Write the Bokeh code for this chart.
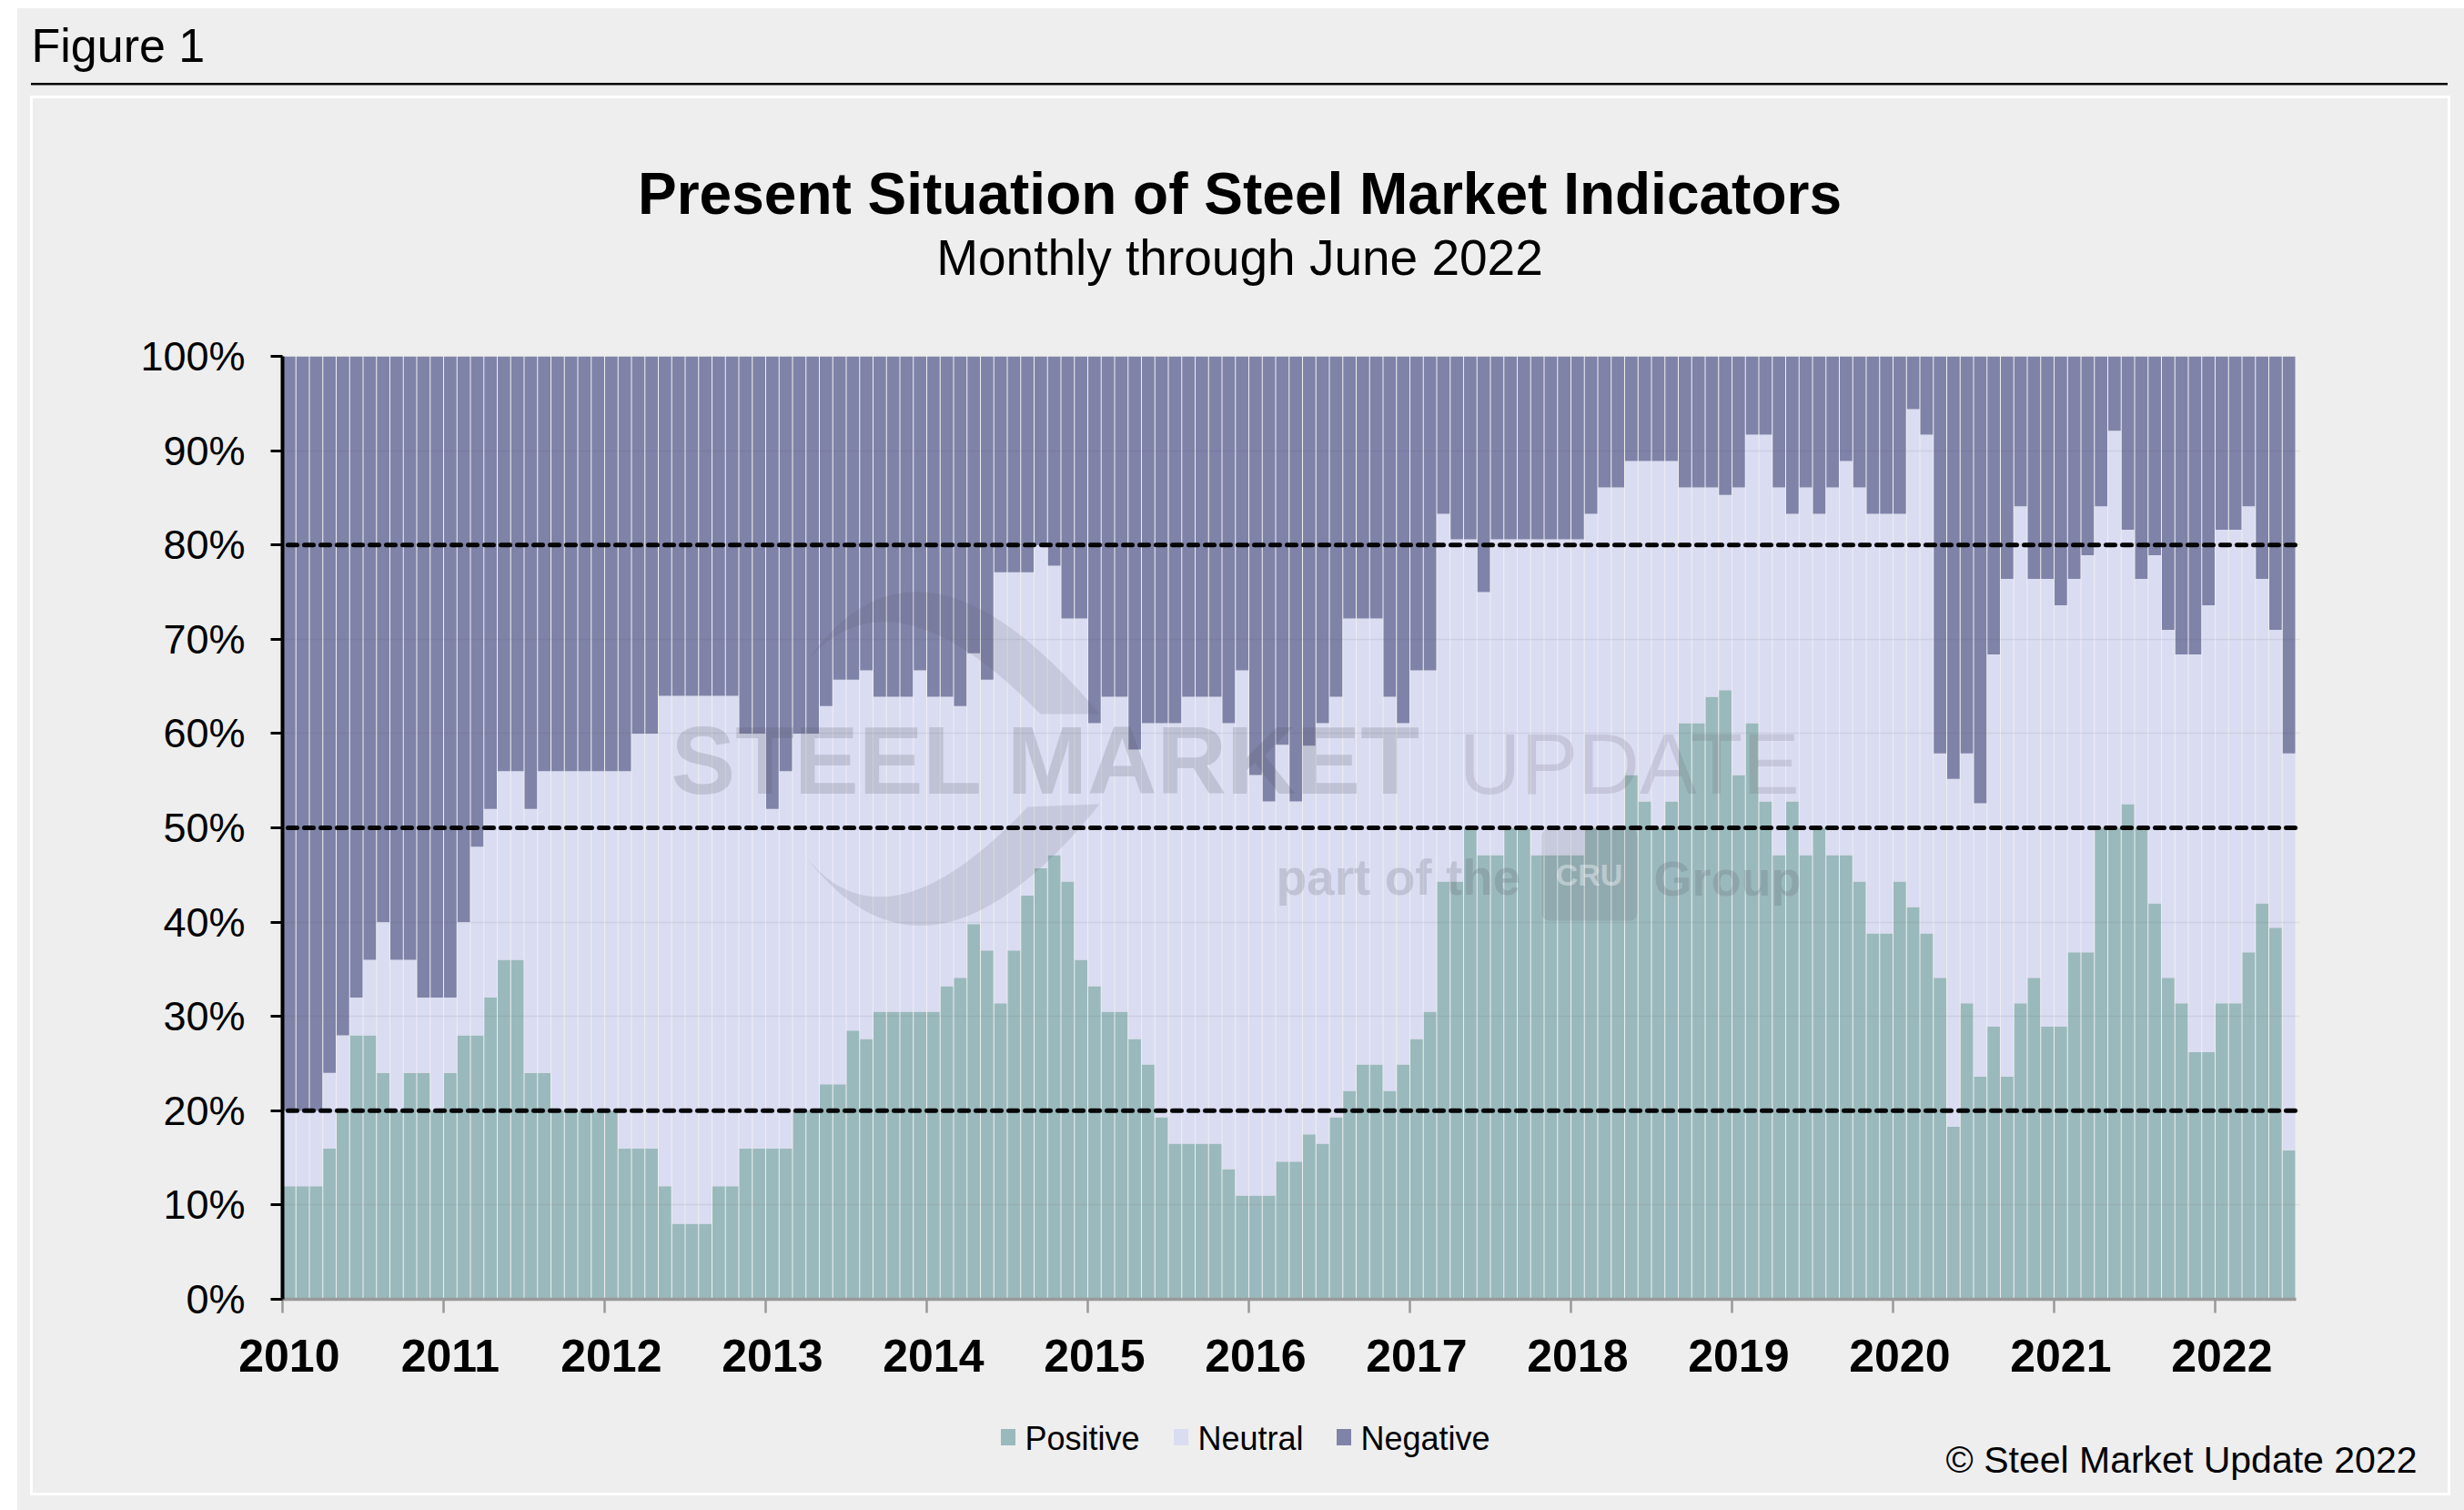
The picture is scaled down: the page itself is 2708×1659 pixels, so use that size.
from bokeh.plotting import figure
from bokeh.embed import file_html
from bokeh.resources import INLINE
from bokeh.models import Label, BoxAnnotation, PolyAnnotation, FixedTicker, Range1d
import numpy as np

YEARS = [str(y) for y in range(2010, 2023)]
Y_TICKS = list(range(0, 101, 10))
REFERENCE_LINES = [20, 50, 80]
LEGEND_LABELS = ["Positive", "Neutral", "Negative"]

POSITIVE = [
    12, 12, 12, 16, 20, 28, 28, 24, 20, 24, 24, 20,
    24, 28, 28, 32, 36, 36, 24, 24, 20, 20, 20, 20,
    20, 16, 16, 16, 12, 8, 8, 8, 12, 12, 16, 16,
    16, 16, 20, 20, 22.8, 22.8, 28.5, 27.6, 30.5, 30.5, 30.5, 30.5,
    30.5, 33.2, 34.1, 39.8, 37, 31.4, 37, 42.8, 45.7, 47.1, 44.3, 36,
    33.2, 30.5, 30.5, 27.6, 24.9, 19.3, 16.5, 16.5, 16.5, 16.5, 13.8, 11,
    11, 11, 14.6, 14.6, 17.5, 16.5, 19.3, 22.1, 24.9, 24.9, 22.1, 24.9,
    27.6, 30.5, 44.3, 44.3, 50, 47.1, 47.1, 50, 50, 47.1, 47.1, 47.1,
    47.1, 50, 50, 50, 55.6, 52.8, 50, 52.8, 61.1, 61.1, 63.9, 64.6,
    55.6, 61.1, 52.8, 47.1, 52.8, 47.1, 50, 47.1, 47.1, 44.3, 38.8, 38.8,
    44.3, 41.6, 38.8, 34.1, 18.3, 31.4, 23.6, 28.9, 23.6, 31.4, 34.1, 28.9,
    28.9, 36.8, 36.8, 50, 50, 52.5, 50, 42, 34.1, 31.4, 26.2, 26.2,
    31.4, 31.4, 36.8, 42, 39.4, 15.8,
]
# Top of the neutral band (bottom of the negative band)
POSITIVE_PLUS_NEUTRAL = [
    20, 20, 20, 24, 28, 32, 36, 40, 36, 36, 32, 32,
    32, 40, 48, 52, 56, 56, 52, 56, 56, 56, 56, 56,
    56, 56, 60, 60, 64, 64, 64, 64, 64, 64, 60, 60,
    52, 56, 60, 60, 62.9, 65.7, 65.7, 66.7, 63.9, 63.9, 63.9, 66.7,
    63.9, 63.9, 62.9, 68.5, 65.7, 77.1, 77.1, 77.1, 80, 77.8, 72.2, 72.2,
    61.1, 63.9, 63.9, 58.3, 61.1, 61.1, 61.1, 63.9, 63.9, 63.9, 61.1, 66.7,
    55.6, 52.8, 58.8, 52.8, 58.7, 61.1, 63.9, 72.2, 72.2, 72.2, 63.9, 61.1,
    66.7, 66.7, 83.3, 80.6, 80.6, 75, 80.6, 80.6, 80.6, 80.6, 80.6, 80.6,
    80.6, 83.3, 86.1, 86.1, 88.9, 88.9, 88.9, 88.9, 86.1, 86.1, 86.1, 85.3,
    86.1, 91.7, 91.7, 86.1, 83.3, 86.1, 83.3, 86.1, 88.9, 86.1, 83.3, 83.3,
    83.3, 94.4, 91.7, 57.9, 55.2, 57.9, 52.6, 68.4, 76.4, 84.1, 76.4, 76.4,
    73.6, 76.4, 78.9, 84.1, 92.1, 81.6, 76.4, 78.9, 71, 68.4, 68.4, 73.6,
    81.6, 81.6, 84.1, 76.4, 71, 57.9,
]
TOTAL = [100] * len(POSITIVE)

C_POS, C_NEU, C_NEG = "#9AB9BC", "#DADCF2", "#7F83A8"
FONT = "Liberation Sans"

n = len(POSITIVE)
months = np.arange(n) + 0.5

# pixel geometry of the plot frame on the page
W, H = 2700, 1650
L, R, T, B = 310, 2527, 391, 1427
PXM = 14.75
X1 = (R - L) / PXM
def X(px): return (px - L) / PXM
def Y(py): return (B - py) / (B - T) * 100

p = figure(width=W, height=H, output_backend="svg", toolbar_location=None,
           x_range=Range1d(0, X1), y_range=Range1d(0, 100),
           min_border_left=L, min_border_right=W - R,
           min_border_top=T, min_border_bottom=H - B,
           background_fill_color=None, border_fill_color=None,
           outline_line_color=None)

p.vbar(x=months, width=0.93, bottom=0, top=POSITIVE, color=C_POS, line_color=None, name="Positive")
p.vbar(x=months, width=0.93, bottom=POSITIVE, top=POSITIVE_PLUS_NEUTRAL, color=C_NEU, line_color=None, name="Neutral")
p.vbar(x=months, width=0.93, bottom=POSITIVE_PLUS_NEUTRAL, top=TOTAL, color=C_NEG, line_color=None, name="Negative")

for v in REFERENCE_LINES:
    p.line([X(316), X1], [v, v], line_color="black", line_width=5, line_dash="10 8",
           line_cap="round", level="overlay")

# axes
xa = p.xaxis[0]
xa.ticker = FixedTicker(ticks=[12 * i + 0.5 for i in range(len(YEARS))],
                        minor_ticks=[12 * i for i in range(len(YEARS))])
xa.major_label_overrides = {12 * i + 0.5: y for i, y in enumerate(YEARS)}
xa.bounds = (0, n)
xa.axis_line_color = "#999999"
xa.axis_line_width = 3.5
xa.major_tick_line_color = None
xa.major_tick_in = 0
xa.major_tick_out = 0
xa.minor_tick_line_color = "#999999"
xa.minor_tick_line_width = 2.5
xa.minor_tick_in = 0
xa.minor_tick_out = 15
xa.major_label_standoff = 29
xa.major_label_text_font = FONT
xa.major_label_text_font_size = "50px"
xa.major_label_text_font_style = "bold"
xa.major_label_text_color = "black"

ya = p.yaxis[0]
ya.ticker = FixedTicker(ticks=Y_TICKS)
ya.major_label_overrides = {v: f"{v}%" for v in Y_TICKS}
ya.axis_line_color = "black"
ya.axis_line_width = 4
ya.major_tick_line_color = "black"
ya.major_tick_line_width = 3
ya.major_tick_in = 0
ya.major_tick_out = 13
ya.minor_tick_line_color = None
ya.major_label_standoff = 28
ya.major_label_text_font = FONT
ya.major_label_text_font_size = "45px"
ya.major_label_text_color = "black"

p.xgrid.grid_line_color = None
p.ygrid.ticker = FixedTicker(ticks=Y_TICKS)
p.ygrid.grid_line_color = "#555566"
p.ygrid.grid_line_alpha = 0.1
p.ygrid.grid_line_width = 1.5
p.ygrid.level = "overlay"
p.ygrid.bounds = (0, n)

def text(txt, px, py, size, bold=False, align="left", color="black", alpha=1.0, font=FONT, side=None):
    # py is the wanted baseline on the page; labels in a side panel are not clipped to the frame
    lab = Label(x=X(px), y=Y(py - 0.35 * size), text=txt, text_font=font, text_font_size=f"{size}px",
                text_font_style="bold" if bold else "normal", text_align=align,
                text_baseline="alphabetic", text_color=color, text_alpha=alpha)
    if side:
        p.add_layout(lab, side)
    else:
        p.add_layout(lab)

text("Figure 1", 34, 68, 52, side="above")
text("Present Situation of Steel Market Indicators", 1362, 234.5, 64, bold=True, align="center", side="above")
text("Monthly through June 2022", 1362, 302, 55, align="center", side="above")
text("© Steel Market Update 2022", 2656, 1618, 41, align="right", side="above")

# legend: labels here, colour squares in the page background below
LEGEND_COLORS = [C_POS, C_NEU, C_NEG]
SQUARE_X = [1100, 1290, 1469]
LABEL_X = [1126, 1316, 1495]
for label, tx_x in zip(LEGEND_LABELS, LABEL_X):
    text(label, tx_x, 1592.5, 36, side="above")

# watermark
WM, WA = "#555566", 0.2
def bez(p0, p1, p2, k=40):
    t = np.linspace(0, 1, k)[:, None]
    p0, p1, p2 = map(np.array, (p0, p1, p2))
    return (1 - t) ** 2 * p0 + 2 * t * (1 - t) * p1 + t ** 2 * p2
def crescent(tip, outer_c, end_o, end_i, inner_c):
    a = bez(tip, outer_c, end_o)
    b = bez(end_i, inner_c, tip)
    pts = np.vstack([a, b])
    p.add_layout(PolyAnnotation(xs=[X(v) for v in pts[:, 0]], ys=[Y(v) for v in pts[:, 1]],
                                fill_color=WM, fill_alpha=WA * 0.75, line_color=None))
crescent((888, 724), (1012, 550), (1208, 784), (1143, 784), (982, 618))
crescent((886, 942), (1021, 1116), (1208, 883), (1129, 886), (974, 1050))

text("STEEL MARKET", 737, 872, 106, bold=True, color=WM, alpha=WA)
text("UPDATE", 1603, 872, 94, color=WM, alpha=WA * 0.8)
text("part of the", 1402, 983, 55, bold=True, color=WM, alpha=WA)
text("Group", 1817, 983, 54, bold=True, color=WM, alpha=WA)
p.add_layout(BoxAnnotation(left=X(1694), right=X(1799), top=Y(910), bottom=Y(1011), fill_color=WM,
                           fill_alpha=0.14, line_color=None, border_radius=8))
text("CRU", 1746, 972, 34, bold=True, align="center", color="white", alpha=0.4)

# Page furniture outside the plot frame, painted as background rectangles of the page
rects = [
    ("#FFFFFF", 0, 0, 19, 1659), ("#FFFFFF", 0, 0, 2708, 9),
    ("#000000", 34, 91, 2656, 2.5),
    ("#FFFFFF", 33, 105, 3, 1538), ("#FFFFFF", 2690, 105, 3, 1538),
    ("#FFFFFF", 33, 105, 2660, 3), ("#FFFFFF", 33, 1640, 2660, 3),
]
rects += [(c, x, 1570, 16, 18) for c, x in zip(LEGEND_COLORS, SQUARE_X)]
images = ",".join(f"linear-gradient({r[0]},{r[0]})" for r in rects)
positions = ",".join(f"{r[1]}px {r[2]}px" for r in rects)
sizes = ",".join(f"{r[3]}px {r[4]}px" for r in rects)
css = (f"<style>html{{background-color:#EEEEEE;background-repeat:no-repeat;"
       f"background-image:{images};background-position:{positions};background-size:{sizes};}}</style>")
html = file_html(p, INLINE).replace("</head>", css + "</head>", 1)
open("out.html", "w").write(html)
